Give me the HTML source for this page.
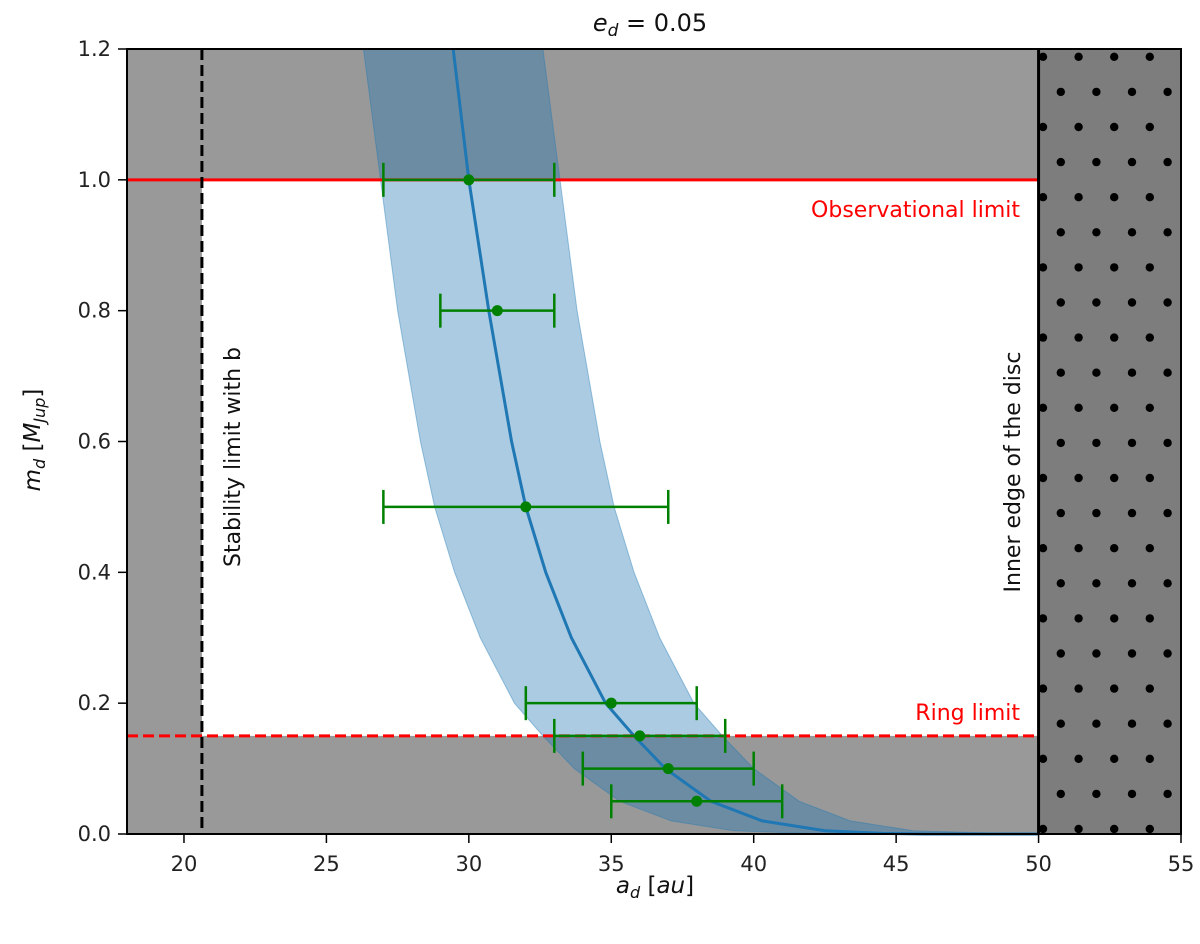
<!DOCTYPE html>
<html><head><meta charset="utf-8"><style>
body{margin:0;background:#fff;}
svg text{font-family:"DejaVu Sans","Liberation Sans",sans-serif;}
</style></head><body>
<svg id="chart" width="1200" height="939" viewBox="0 0 1200 939" xmlns="http://www.w3.org/2000/svg">
</svg>
<script>
const xTicks=[20,25,30,35,40,45,50,55];
const yTicks=[0.0,0.2,0.4,0.6,0.8,1.0,1.2];
const curveM=[1.2,1.0,0.8,0.6,0.5,0.4,0.3,0.2,0.15,0.1,0.05,0.02,0.005,0.001,0,0];
const curveA=[29.45,30.0,30.7,31.5,32.0,32.7,33.6,34.8,35.8,36.9,38.5,40.3,42.5,44.5,46,50];
const bandM=[1.2,1.0,0.8,0.6,0.5,0.4,0.3,0.2,0.15,0.1,0.05,0.02,0.005,0];
const bandLow=[26.3,26.9,27.5,28.3,28.8,29.5,30.4,31.6,32.6,33.7,35.3,37.1,39.3,42.5];
const bandHigh=[32.6,33.2,33.8,34.6,35.1,35.8,36.7,37.9,38.9,40.0,41.6,43.4,45.6,49.5];
const ptA=[30,31,32,35,36,37,38];
const ptM=[1.0,0.8,0.5,0.2,0.15,0.1,0.05];
const errLo=[27,29,27,32,33,34,35];
const errHi=[33,33,37,38,39,40,41];
const obsLimit=1.0, ringLimit=0.15, stabLimit=20.63, discEdge=50;
const xMin=18,xMax=55,yMin=0,yMax=1.2;
const L=127,R=1181,T=49,B=834;
const X=a=>L+(a-xMin)/(xMax-xMin)*(R-L);
const Y=m=>B-(m-yMin)/(yMax-yMin)*(B-T);
const svg=document.getElementById('chart');
const NS='http://www.w3.org/2000/svg';
function mk(tag,attrs,parent){const e=document.createElementNS(NS,tag);for(const k in attrs)e.setAttribute(k,attrs[k]);(parent||svg).appendChild(e);return e;}
const G='#999999';
let e;
e=mk('rect',{x:L,y:T,width:X(stabLimit)-L,height:B-T,fill:G});


e=mk('rect',{x:L,y:T,width:X(discEdge)-L,height:Y(obsLimit)-T,fill:G});


e=mk('rect',{x:L,y:Y(ringLimit),width:X(discEdge)-L,height:B-Y(ringLimit),fill:G});


e=mk('rect',{x:X(discEdge),y:T,width:R-X(discEdge),height:B-T,fill:'#7d7d7d'});


const dg=mk('g',{});


for(let r=0;r<23;r++){const y=829-r*35.1;if(y<T)break;const off=(r%2===0)?0:17.8;for(let c=0;c<5;c++){const x=1043+off+c*35.6;if(x>R-2)continue;mk('circle',{cx:x,cy:y,r:4.2,fill:'#000'},dg);}}
// band
let d='';
bandM.forEach((m,i)=>{d+=(i?'L':'M')+X(bandHigh[i])+','+Y(m);});
for(let i=bandM.length-1;i>=0;i--)d+='L'+X(bandLow[i])+','+Y(bandM[i]);
e=mk('path',{d:d+'Z',fill:'rgba(31,119,180,0.38)',stroke:'rgba(31,119,180,0.4)','stroke-width':1});


// curve
d='';curveM.forEach((m,i)=>{d+=(i?'L':'M')+X(curveA[i])+','+Y(m);});
e=mk('path',{d:d,fill:'none',stroke:'#1f77b4','stroke-width':3});


// limits
e=mk('line',{x1:L,x2:X(discEdge),y1:Y(obsLimit),y2:Y(obsLimit),stroke:'#ff0000','stroke-width':3});


e=mk('line',{x1:L,x2:X(discEdge),y1:Y(ringLimit),y2:Y(ringLimit),stroke:'#ff0000','stroke-width':3,'stroke-dasharray':'11,5'});


e=mk('line',{x1:X(stabLimit),x2:X(stabLimit),y1:T,y2:B,stroke:'#000','stroke-width':3,'stroke-dasharray':'11,5'});


e=mk('line',{x1:X(discEdge),x2:X(discEdge),y1:T,y2:B,stroke:'#000','stroke-width':3});


// error bars
ptA.forEach((a,i)=>{
  const g=mk('g',{});
  
  
  const y=Y(ptM[i]);
  mk('line',{x1:X(errLo[i]),x2:X(errHi[i]),y1:y,y2:y,stroke:'#008000','stroke-width':2.5},g);
  mk('line',{x1:X(errLo[i]),x2:X(errLo[i]),y1:y-17,y2:y+17,stroke:'#008000','stroke-width':2.5},g);
  mk('line',{x1:X(errHi[i]),x2:X(errHi[i]),y1:y-17,y2:y+17,stroke:'#008000','stroke-width':2.5},g);
  mk('circle',{cx:X(a),cy:y,r:5.5,fill:'#008000'},g);
});
// frame
e=mk('rect',{x:L,y:T,width:R-L,height:B-T,fill:'none',stroke:'#000','stroke-width':2});


xTicks.forEach(v=>{const x=X(v);mk('line',{x1:x,x2:x,y1:B,y2:B+9,stroke:'#000','stroke-width':1.5});
  const t=mk('text',{x:x,y:B+37,'text-anchor':'middle','font-size':21,fill:'#222'});t.textContent=v;
  
  });
yTicks.forEach(v=>{const y=Y(v);mk('line',{x1:L-9,x2:L,y1:y,y2:y,stroke:'#000','stroke-width':1.5});
  const t=mk('text',{x:L-16,y:y+7,'text-anchor':'end','font-size':21,fill:'#222'});t.textContent=v.toFixed(1);
  
  });
function txt(s,attrs,name,html){const t=mk('text',attrs);if(html)t.innerHTML=s;else t.textContent=s;return t;}
txt('<tspan font-style="italic">e</tspan><tspan font-style="italic" font-size="17" dy="5">d</tspan><tspan dy="-5"> = 0.05</tspan>',{x:650,y:31,'text-anchor':'middle','font-size':24,fill:'#111'},'chart-title',true);
txt('<tspan font-style="italic">a</tspan><tspan font-style="italic" font-size="16" dy="5">d</tspan><tspan dy="-5"> [</tspan><tspan font-style="italic">au</tspan>]',{x:655,y:893,'text-anchor':'middle','font-size':23,fill:'#111'},'x-axis-title',true);
txt('<tspan font-style="italic">m</tspan><tspan font-style="italic" font-size="16" dy="5">d</tspan><tspan dy="-5"> [</tspan><tspan font-style="italic">M</tspan><tspan font-style="italic" font-size="16" dy="5">Jup</tspan><tspan dy="-5">]</tspan>',{x:0,y:0,'text-anchor':'middle','font-size':23,fill:'#111',transform:'translate(40,440) rotate(-90)'},'y-axis-title',true);
txt('Observational limit',{x:1020,y:217,'text-anchor':'end','font-size':22,fill:'#ff0000'},'observational-limit-label');
txt('Ring limit',{x:1020,y:720,'text-anchor':'end','font-size':22,fill:'#ff0000'},'ring-limit-label');
txt('Stability limit with b',{x:0,y:0,'text-anchor':'middle','font-size':22,fill:'#111',transform:'translate(240,457) rotate(-90)'},'stability-limit-label');
txt('Inner edge of the disc',{x:0,y:0,'text-anchor':'middle','font-size':22,fill:'#111',transform:'translate(1020,472) rotate(-90)'},'disc-edge-label');
</script>
</body></html>
